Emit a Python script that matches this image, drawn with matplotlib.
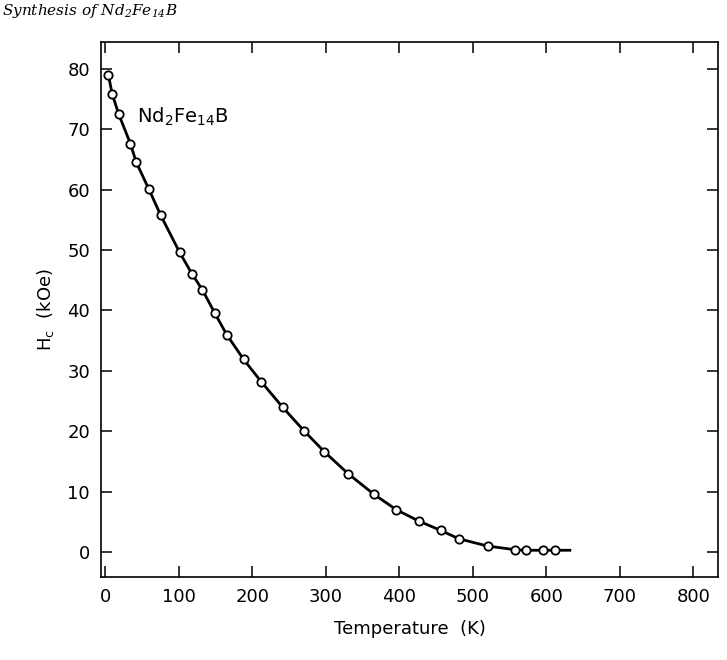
import matplotlib
matplotlib.use("Agg")
import matplotlib.pyplot as plt

plt.rcParams['font.family'] = ['DejaVu Sans']
plt.rcParams['mathtext.default'] = 'regular'

# Hc of Nd2Fe14B vs temperature
temperature = [4, 9, 18, 34, 42, 59, 75, 101, 118, 132, 149, 165, 188, 212,
               241, 270, 298, 330, 365, 396, 427, 456, 481, 520, 557, 573, 595, 612]
hc = [79.0, 75.9, 72.5, 67.6, 64.5, 60.1, 55.8, 49.6, 46.0, 43.4, 39.5, 36.0,
      31.9, 28.2, 24.0, 20.1, 16.6, 13.0, 9.6, 7.0, 5.1, 3.6, 2.2, 1.0, 0.4,
      0.3, 0.3, 0.3]

# the drawn curve runs a little past the last point
curve_end_t = 632
curve_end_hc = 0.3

x_ticks = [0, 100, 200, 300, 400, 500, 600, 700, 800]
y_ticks = [0, 10, 20, 30, 40, 50, 60, 70, 80]

fig = plt.figure(figsize=(7.27, 6.6), dpi=100)
ax = fig.add_axes([0.139, 0.126, 0.849, 0.81])

# curve + open circles
ax.plot(temperature + [curve_end_t], hc + [curve_end_hc], color='black', lw=2.0, zorder=2)
ax.plot(temperature, hc, linestyle='none', marker='o', markersize=6,
        markerfacecolor='white', markeredgecolor='black', markeredgewidth=1.3, zorder=3)

ax.set_xlim(-6, 834)
ax.set_ylim(-4.1, 84.4)
ax.set_xticks(x_ticks)
ax.set_yticks(y_ticks)
ax.tick_params(direction='in', length=8, width=1.1, top=True, right=True,
               labelsize=13, pad=8)
for s in ax.spines.values():
    s.set_linewidth(1.2)

ax.set_xlabel('Temperature  (K)', fontsize=13, labelpad=10)
ax.set_ylabel('H$_c$  (kOe)', fontsize=13, labelpad=8)

ax.text(43, 72, 'Nd$_2$Fe$_{14}$B', fontsize=14, va='center', ha='left')

# page header from the book scan (cut off at the top in the scan)
fig.text(0.003, 0.997, 'Synthesis of Nd$_2$Fe$_{14}$B', fontsize=11,
         family='serif', style='italic', va='top', ha='left')

plt.savefig('out.png', dpi=100)
